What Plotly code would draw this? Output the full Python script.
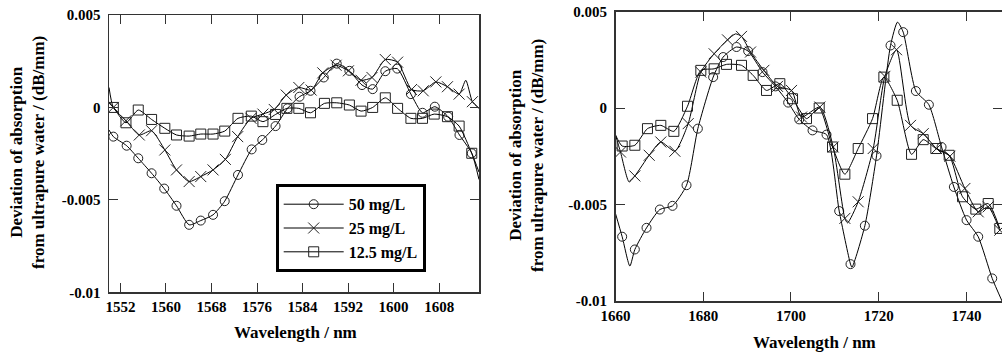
import plotly.graph_objects as go

# ---------------- Left panel (1550-1615 nm) ----------------
L_c50_x = [1550.76, 1553.10, 1555.14, 1557.48, 1559.70, 1561.86, 1564.08, 1566.12, 1568.28, 1570.33,
           1572.66, 1575.06, 1576.93, 1579.26, 1581.37, 1583.47, 1585.40, 1587.73, 1590.01, 1592.23,
           1594.45, 1596.32, 1598.54, 1600.64, 1603.04, 1605.08, 1607.24, 1609.58, 1611.57, 1613.73]
L_c50_y = [-0.00158, -0.00207, -0.00275, -0.00356, -0.00439, -0.00532, -0.00635, -0.00612, -0.00581, -0.00507,
           -0.00365, -0.00227, -0.00176, -0.00101, -0.00005, 0.00058, 0.00090, 0.00162, 0.00237, 0.00198,
           0.00121, 0.00099, 0.00196, 0.00210, 0.00072, -0.00029, 0.00004, -0.00050, -0.00149, -0.00248]
L_c50_line_x = [1550.0, 1615.0]
L_c50_line_y = [-0.00122, -0.0039]

L_c25_x = [1550.76, 1552.98, 1555.32, 1557.48, 1559.81, 1561.86, 1564.08, 1566.12, 1568.28, 1570.44,
           1572.61, 1574.94, 1577.04, 1579.03, 1581.13, 1583.35, 1585.51, 1587.56, 1589.89, 1592.06,
           1594.28, 1596.20, 1598.54, 1600.70, 1603.15, 1605.20, 1607.42, 1609.46, 1611.51, 1613.84]
L_c25_y = [0.0, -0.00072, -0.00149, -0.00126, -0.00230, -0.00338, -0.00401, -0.00374, -0.00338, -0.00281,
           -0.00158, -0.00059, -0.00036, -0.00011, 0.00067, 0.00108, 0.00094, 0.00187, 0.00228, 0.00198,
           0.00147, 0.00162, 0.00259, 0.00245, 0.00097, 0.00090, 0.00138, 0.00112, 0.00072, 0.00031]
L_c25_line_x = [1550.0, 1612.68, 1615.0]
L_c25_line_y = [0.00108, 0.00147, -0.00005]

L_c12_x = [1550.76, 1552.98, 1555.14, 1557.48, 1559.81, 1561.86, 1564.08, 1566.12, 1568.28, 1570.33,
           1572.66, 1575.00, 1577.04, 1579.26, 1581.25, 1583.35, 1585.40, 1587.85, 1590.01, 1592.23,
           1594.28, 1596.32, 1598.54, 1600.70, 1603.04, 1605.08, 1607.13, 1609.46, 1611.51, 1613.73]
L_c12_y = [0.0, -0.00083, -0.00014, -0.00065, -0.00113, -0.00149, -0.00155, -0.00144, -0.00144, -0.00128,
           -0.00059, -0.00047, -0.00077, -0.00038, -0.00005, -0.00005, -0.00029, 0.00022, 0.00025, 0.00013,
           -0.00020, 0.0, 0.00052, -0.00005, -0.00059, -0.00059, -0.00036, -0.00050, -0.00101, -0.00248]
L_c12_line_x = [1550.0, 1615.0]
L_c12_line_y = [0.0003, -0.0035]

# ---------------- Right panel (1660-1748 nm) ----------------
R_c50_x = [1661.52, 1664.41, 1667.07, 1670.11, 1673.00, 1676.19, 1678.77, 1682.26, 1684.54, 1687.58,
           1690.24, 1693.51, 1696.47, 1699.36, 1701.87, 1704.91, 1708.10, 1710.99, 1713.57, 1716.84,
           1719.50, 1722.69, 1725.58, 1728.47, 1731.43, 1734.32, 1737.13, 1740.02, 1742.68, 1745.87]
R_c50_y = [-0.00667, -0.00733, -0.00621, -0.00526, -0.00507, -0.00400, -0.00107, 0.00160, 0.00264, 0.00316,
           0.00295, 0.00186, 0.00112, 0.00028, -0.00059, -0.00116, -0.00138, -0.00534, -0.00809, -0.00610,
           -0.00248, 0.00324, 0.00393, 0.00088, 0.00017, -0.00202, -0.00409, -0.00581, -0.00667, -0.00883]
R_c50_line_x = [1660.0, 1663.27, 1713.9, 1724.29, 1748.1]
R_c50_line_y = [-0.00547, -0.00819, -0.00825, 0.00445, -0.0100]

R_c25_x = [1661.14, 1664.41, 1667.68, 1670.33, 1673.53, 1676.57, 1679.45, 1682.49, 1685.53, 1688.72,
           1690.78, 1693.81, 1696.93, 1700.12, 1702.40, 1706.58, 1709.62, 1712.28, 1715.32, 1718.74,
           1721.40, 1724.06, 1727.25, 1730.14, 1733.18, 1736.22, 1739.64, 1742.68, 1744.96, 1747.60]
R_c25_y = [-0.00228, -0.00352, -0.00245, -0.00176, -0.00224, -0.00081, 0.00186, 0.00281, 0.00353, 0.00371,
           0.00290, 0.00195, 0.00112, 0.00091, -0.00047, 0.00005, -0.00202, -0.00572, -0.00486, -0.00210,
           0.00164, 0.00302, -0.00090, -0.00133, -0.00210, -0.00250, -0.00417, -0.00538, -0.00512, -0.00633]
R_c25_line_x = [1660.0, 1663.1, 1687.36, 1712.9]
R_c25_line_y = [-0.0014, -0.00383, 0.00384, -0.00595]

R_c12_x = [1661.52, 1664.41, 1667.29, 1670.33, 1673.30, 1676.41, 1679.45, 1682.49, 1685.30, 1688.72,
           1691.38, 1694.42, 1697.46, 1700.35, 1703.54, 1706.43, 1709.47, 1712.28, 1715.32, 1718.59,
           1721.17, 1724.21, 1727.48, 1730.14, 1733.02, 1736.06, 1739.10, 1742.14, 1744.96, 1747.60]
R_c12_y = [-0.00197, -0.00193, -0.00107, -0.00090, -0.00121, 0.00009, 0.00195, 0.00203, 0.00226, 0.00221,
           0.00169, 0.00091, 0.00126, 0.00048, -0.00055, 0.0, -0.00202, -0.00343, -0.00210, -0.00055,
           0.00160, 0.00040, -0.00240, -0.00164, -0.00210, -0.00245, -0.00460, -0.00524, -0.00495, -0.00624]
R_c12_line_x = [1660.0]
R_c12_line_y = [-0.0014]

series_names = ["50 mg/L", "25 mg/L", "12.5 mg/L"]
symbols = ["circle-open", "x-thin-open", "square-open"]
sizes = [9, 11, 10]

L_xticks = [1552, 1560, 1568, 1576, 1584, 1592, 1600, 1608]
R_xticks = [1660, 1680, 1700, 1720, 1740]
y_tickvals = [0.005, 0, -0.005, -0.01]
y_ticktext = ["0.005", "0", "-0.005", "-0.01"]

FONT = "Liberation Serif, Times New Roman, serif"
W, H = 1002, 354


def px_x(v):
    return v / W


def px_y(v):
    return 1 - v / H


def merged(mx, my, lx, ly):
    pts = sorted(list(zip(mx, my)) + list(zip(lx, ly)))
    return [p[0] for p in pts], [p[1] for p in pts]


fig = go.Figure()

panels = [
    ("x", "y", [(L_c50_x, L_c50_y, L_c50_line_x, L_c50_line_y),
                (L_c25_x, L_c25_y, L_c25_line_x, L_c25_line_y),
                (L_c12_x, L_c12_y, L_c12_line_x, L_c12_line_y)]),
    ("x2", "y2", [(R_c50_x, R_c50_y, R_c50_line_x, R_c50_line_y),
                  (R_c25_x, R_c25_y, R_c25_line_x, R_c25_line_y),
                  (R_c12_x, R_c12_y, R_c12_line_x, R_c12_line_y)]),
]

for xa, ya, sers in panels:
    for i, (mx, my, lx, ly) in enumerate(sers):
        X, Y = merged(mx, my, lx, ly)
        fig.add_trace(go.Scatter(x=X, y=Y, mode="lines", xaxis=xa, yaxis=ya,
                                 line=dict(color="black", width=1, shape="spline", smoothing=0.6),
                                 showlegend=False, hoverinfo="skip"))
        fig.add_trace(go.Scatter(x=mx, y=my, mode="markers", xaxis=xa, yaxis=ya,
                                 marker=dict(symbol=symbols[i], size=sizes[i], color="#222",
                                             line=dict(width=1, color="#222")),
                                 showlegend=False, cliponaxis=True))

# legend entries
for i in range(3):
    fig.add_trace(go.Scatter(x=[None], y=[None], mode="lines+markers", name=series_names[i],
                             xaxis="x", yaxis="y",
                             line=dict(color="black", width=1),
                             marker=dict(symbol=symbols[i], size=sizes[i], color="#222",
                                         line=dict(width=1, color="#222"))))

axis_common = dict(showline=True, linecolor="#333", linewidth=1.5, mirror="ticks",
                   ticks="inside", ticklen=9, tickwidth=1, tickcolor="#333",
                   showgrid=False, zeroline=False, automargin=False, ticklabeloverflow="allow",
                   tickfont=dict(family=FONT, size=15, color="black", weight="bold"))

fig.update_layout(
    template="none",
    width=W, height=H, margin=dict(l=0, r=0, t=0, b=0, pad=0, autoexpand=False),
    paper_bgcolor="white", plot_bgcolor="white",
    font=dict(family=FONT, color="black"),
    hovermode=False,
    xaxis=dict(domain=[px_x(109), px_x(479)], range=[1550, 1615], tickvals=L_xticks, anchor="y", **axis_common),
    yaxis=dict(domain=[px_y(292.3), px_y(15)], range=[-0.01, 0.005], tickvals=y_tickvals,
               ticktext=y_ticktext, anchor="x", ticklabelstandoff=4, **axis_common),
    xaxis2=dict(domain=[px_x(615.5), 1.0], range=[1660, 1748.1], tickvals=R_xticks, anchor="y2", **axis_common),
    yaxis2=dict(domain=[px_y(301), px_y(11.5)], range=[-0.01, 0.005], tickvals=y_tickvals,
                ticktext=y_ticktext, anchor="x2", ticklabelstandoff=4, **axis_common),
    legend=dict(x=px_x(275.7), y=px_y(184.3), xanchor="left", yanchor="top",
                bordercolor="black", borderwidth=3, bgcolor="white",
                font=dict(family=FONT, size=16, color="black", weight="bold"),
                tracegroupgap=0, itemwidth=60),
)

ann_font = dict(family=FONT, size=17, color="black", weight="bold")
fig.add_annotation(text="Deviation of absorption<br>from ultrapure water / (dB/mm)", textangle=-90,
                   x=px_x(28), y=px_y(153), xref="paper", yref="paper", xanchor="center", yanchor="middle",
                   showarrow=False, font=ann_font)
fig.add_annotation(text="Deviation of absorption<br>from ultrapure water / (dB/mm)", textangle=-90,
                   x=px_x(527), y=px_y(156), xref="paper", yref="paper", xanchor="center", yanchor="middle",
                   showarrow=False, font=ann_font)
fig.add_annotation(text="Wavelength / nm", x=px_x(295), y=px_y(332), xref="paper", yref="paper",
                   xanchor="center", yanchor="middle", showarrow=False, font=ann_font)
fig.add_annotation(text="Wavelength / nm", x=px_x(814), y=px_y(342), xref="paper", yref="paper",
                   xanchor="center", yanchor="middle", showarrow=False, font=ann_font)

# remove the browser's default 8px page margin so the figure fills the window exactly
fig.write_html("out.html", config={"displayModeBar": False, "staticPlot": True},
               post_script="document.body.style.margin='0';document.body.style.overflow='hidden';")
